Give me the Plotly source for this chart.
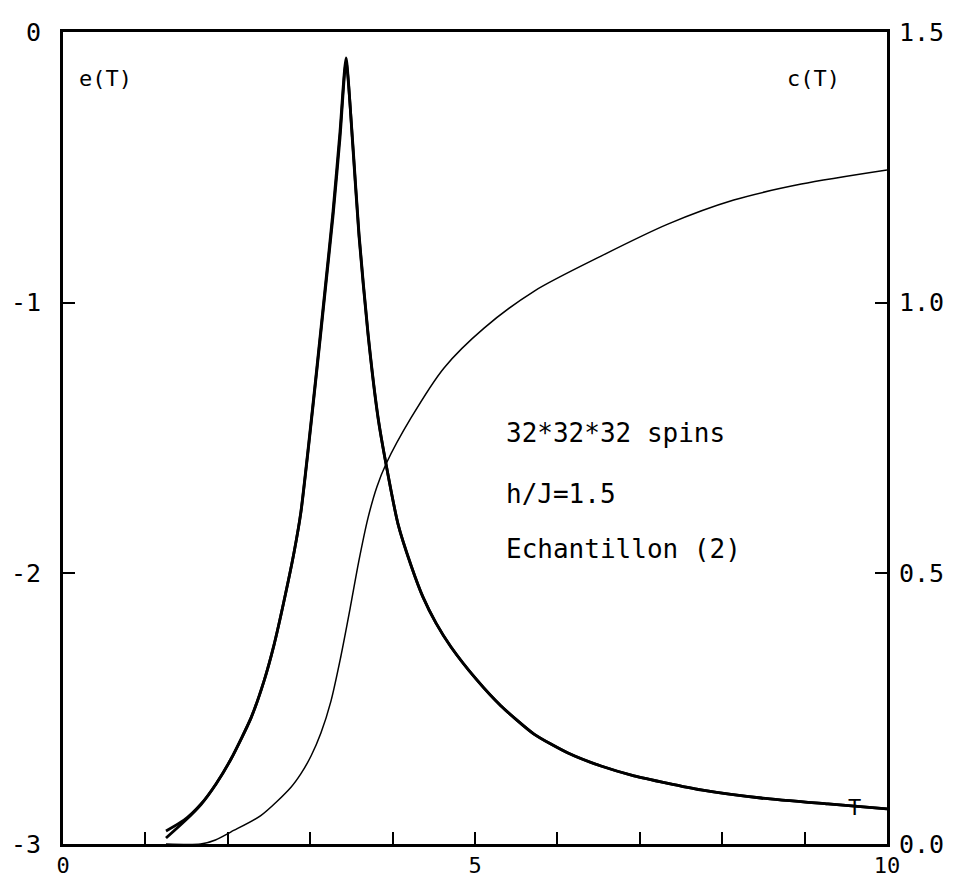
import plotly.graph_objects as go

# Energy e(T) (left axis)
T_e = [1.25, 1.67, 1.85, 2.04, 2.40, 2.767, 2.888, 3.01, 3.13, 3.252, 3.37, 3.483, 3.59, 3.701,
       3.81, 3.92, 4.223, 4.624, 5.11, 5.72, 6.53, 7.34, 8.14, 8.96, 10.0]
e_T = [-3.0, -3.0, -2.985, -2.955, -2.895, -2.790, -2.740, -2.675, -2.590, -2.472, -2.31, -2.132,
       -1.955, -1.796, -1.68, -1.596, -1.426, -1.241, -1.094, -0.957, -0.828, -0.71, -0.621,
       -0.562, -0.510]

# Specific heat c(T) (right axis), two nearly overlapping runs
T_c = [1.25, 1.468, 1.675, 1.857, 2.039, 2.282, 2.439, 2.561, 2.682, 2.803, 2.888, 2.985, 3.083,
       3.18, 3.277, 3.362, 3.435, 3.519, 3.592, 3.701, 3.823, 3.92, 4.066, 4.223, 4.369, 4.527,
       4.709, 5.012, 5.316, 5.716, 6.129, 6.529, 6.93, 7.743, 8.471, 9.284, 10.0]
c_run1 = [0.024, 0.044, 0.074, 0.111, 0.157, 0.233, 0.301, 0.368, 0.449, 0.538, 0.615, 0.744,
          0.883, 1.025, 1.169, 1.317, 1.452, 1.284, 1.123, 0.942, 0.787, 0.702, 0.591, 0.515,
          0.456, 0.408, 0.364, 0.305, 0.255, 0.203, 0.168, 0.144, 0.126, 0.100, 0.085, 0.074, 0.065]
c_run2 = [0.011, 0.041, 0.073, 0.111, 0.157, 0.233, 0.301, 0.368, 0.449, 0.538, 0.613, 0.740,
          0.878, 1.018, 1.160, 1.305, 1.445, 1.290, 1.128, 0.945, 0.789, 0.702, 0.591, 0.515,
          0.456, 0.408, 0.364, 0.305, 0.255, 0.203, 0.168, 0.144, 0.126, 0.100, 0.085, 0.074, 0.065]

x_ticks = [0, 1, 2, 3, 4, 5, 6, 7, 8, 9, 10]
x_tick_text = ["0", "", "", "", "", "5", "", "", "", "", "10"]
e_ticks = [-3, -2, -1, 0]
e_tick_text = ["-3", "-2", "-1", "0"]
c_ticks = [0, 0.5, 1.0, 1.5]
c_tick_text = ["0.0", "0.5", "1.0", "1.5"]

FONT = "DejaVu Sans Mono"

fig = go.Figure()
fig.add_trace(go.Scatter(x=T_e, y=e_T, mode="lines",
                         line=dict(color="black", width=1.5, shape="spline", smoothing=0.8),
                         yaxis="y", showlegend=False))
fig.add_trace(go.Scatter(x=T_c, y=c_run1, mode="lines",
                         line=dict(color="black", width=2.8, shape="spline", smoothing=0.6),
                         yaxis="y2", showlegend=False))
fig.add_trace(go.Scatter(x=T_c, y=c_run2, mode="lines",
                         line=dict(color="black", width=2.8, shape="spline", smoothing=0.6),
                         yaxis="y2", showlegend=False))

axis_common = dict(ticks="inside", ticklen=12, tickwidth=2, tickcolor="black", showline=True,
                   linewidth=3, linecolor="black", showgrid=False, zeroline=False,
                   automargin=False)

fig.update_layout(
    width=957, height=873,
    margin=dict(l=55, r=78, t=24, b=37),
    paper_bgcolor="white", plot_bgcolor="white",
    font=dict(family=FONT, color="black", size=22),
    xaxis=dict(range=[0, 10], tickvals=x_ticks, ticktext=x_tick_text, mirror=True,
               ticklabelstandoff=0, tickfont=dict(family=FONT, size=22, color="black"),
               **axis_common),
    yaxis=dict(range=[-3, 0], tickvals=e_ticks, ticktext=e_tick_text,
               ticklabelstandoff=14, tickfont=dict(family=FONT, size=25, color="black"),
               **axis_common),
    yaxis2=dict(range=[0, 1.5], tickvals=c_ticks, ticktext=c_tick_text, overlaying="y",
                side="right", ticklabelstandoff=4,
                tickfont=dict(family=FONT, size=25, color="black"), **axis_common),
)

ann_font = dict(family=FONT, size=26, color="black")
fig.add_annotation(text="e(T)", xref="paper", yref="paper", x=0.017, y=0.943,
                   xanchor="left", yanchor="middle", showarrow=False, font=dict(family=FONT, size=22))
fig.add_annotation(text="c(T)", xref="paper", yref="paper", x=0.876, y=0.943,
                   xanchor="left", yanchor="middle", showarrow=False, font=dict(family=FONT, size=22))
fig.add_annotation(text="32*32*32 spins", xref="paper", yref="paper", x=0.535, y=0.506,
                   xanchor="left", yanchor="middle", showarrow=False, font=ann_font)
fig.add_annotation(text="h/J=1.5", xref="paper", yref="paper", x=0.535, y=0.431,
                   xanchor="left", yanchor="middle", showarrow=False, font=ann_font)
fig.add_annotation(text="Echantillon (2)", xref="paper", yref="paper", x=0.535, y=0.363,
                   xanchor="left", yanchor="middle", showarrow=False, font=ann_font)
fig.add_annotation(text="T", xref="x", yref="y2", x=9.6, y=0.068,
                   xanchor="center", yanchor="middle", showarrow=False, font=dict(family=FONT, size=22))

fig.write_html("out.html")
